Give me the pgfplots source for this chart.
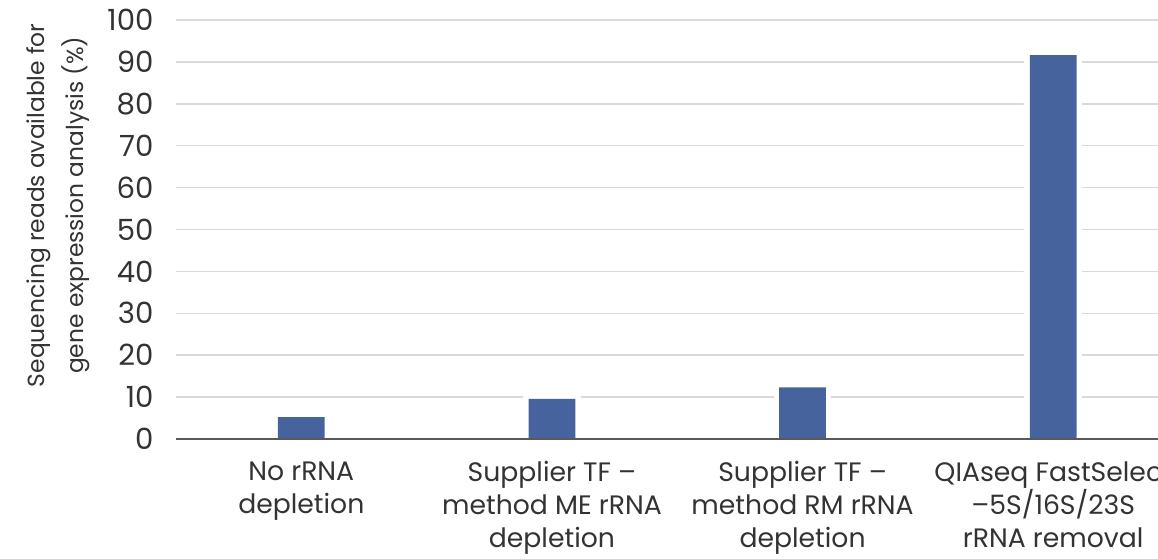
\documentclass[border=0pt]{standalone}
\usepackage{pgfplots}
\pgfplotsset{compat=1.18}
\usepackage{pgfplotstable}
\usepackage{fontspec}
\setmainfont{Poppins}

\definecolor{barblue}{HTML}{47639E}
\definecolor{gridgray}{HTML}{D9D9D9}
\definecolor{basegray}{HTML}{595959}
\definecolor{txt}{HTML}{333333}

% sequencing reads available (%)
\pgfplotstableread{
x  val
0  5.2
1  9.6
2  12.3
3  91.6
}\reads

\begin{document}
\begin{tikzpicture}
  \begin{axis}[
      at={(0,0)}, anchor=south west,
      scale only axis,
      width=601.5pt, height=251.4pt,
      xmin=-0.5, xmax=3.5,
      ymin=0, ymax=100,
      ytick={0,10,...,100},
      xtick={0,1,2,3},
      xticklabels={No rRNA\\depletion,
                   Supplier TF –\\method ME rRNA\\depletion,
                   Supplier TF –\\method RM rRNA\\depletion,
                   QIAseq FastSelect\\–5S/16S/23S\\rRNA removal},
      ymajorgrids,
      grid style={gridgray, line width=0.9pt},
      axis line style={draw=none},
      major tick length=0pt,
      clip=false,
      /pgf/number format/assume math mode=true,
      yticklabel style={font=\fontsize{17.5pt}{20pt}\selectfont, text=txt, xshift=-10pt},
      xticklabel style={font=\fontsize{16pt}{19.8pt}\selectfont, text=txt, align=center, anchor=north, yshift=-10pt},
      ylabel={Sequencing reads available for\\gene expression analysis (\%)},
      ylabel style={font=\fontsize{14pt}{23.5pt}\selectfont, text=txt, align=center,
                    at={(axis description cs:-0.1177,0.558)}, anchor=center},
    ]
    % white halo around the bars
    \addplot[ybar, bar width=28pt, fill=white, draw=white, line width=6.6pt]
      table[x=x, y=val] {\reads};
    \addplot[ybar, bar width=28pt, fill=barblue, draw=none]
      table[x=x, y=val] {\reads};
    % baseline
    \draw[basegray, line width=1.2pt] (axis cs:-0.5,0) -- (axis cs:3.5,0);
  \end{axis}
  \pgfresetboundingbox
  \path[use as bounding box] (-105.6pt,-71.4pt) rectangle (589.2pt,263.4pt);
\end{tikzpicture}
\end{document}
